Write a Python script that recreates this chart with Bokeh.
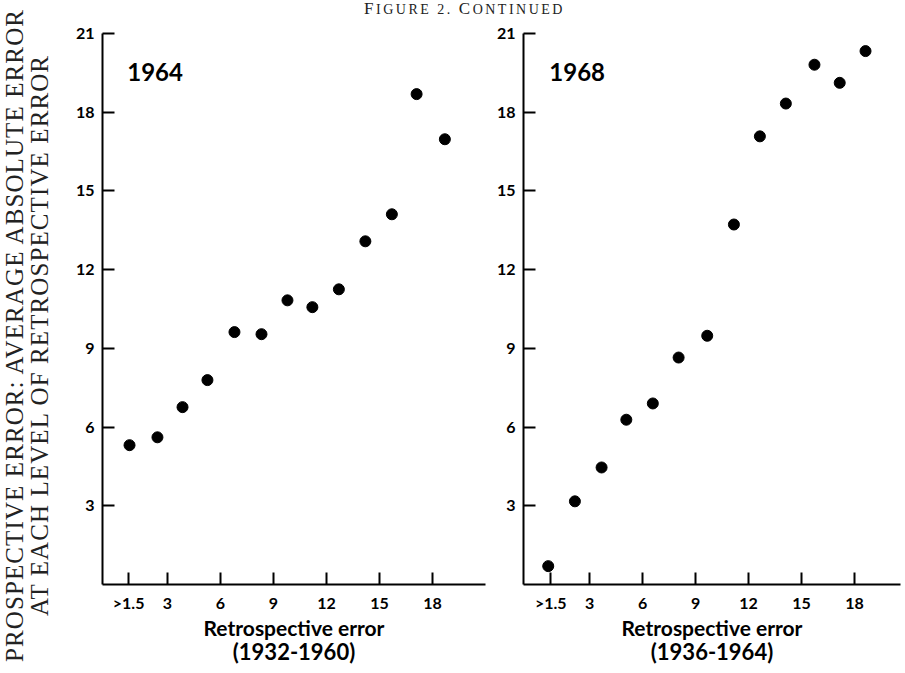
from bokeh.plotting import figure
from bokeh.layouts import column, row
from bokeh.models import Range1d, FixedTicker, Label, Div, LinearAxis
from bokeh.embed import file_html
from bokeh.resources import INLINE

# ---------------- data ----------------
x_ticks = [0.8, 3, 6, 9, 12, 15, 18]
x_tick_labels = [">1.5", "3", "6", "9", "12", "15", "18"]
y_ticks = [3, 6, 9, 12, 15, 18, 21]

x_1964 = [0.85, 2.43, 3.85, 5.26, 6.79, 8.32, 9.79, 11.2, 12.7, 14.2, 15.7, 17.1, 18.7]
y_1964 = [5.31, 5.61, 6.76, 7.79, 9.62, 9.54, 10.83, 10.57, 11.25, 13.08, 14.11, 18.69, 16.97]

x_1968 = [0.66, 2.17, 3.68, 5.08, 6.58, 8.04, 9.66, 11.17, 12.64, 14.11, 15.73, 17.16, 18.62]
y_1968 = [0.70, 3.17, 4.46, 6.28, 6.90, 8.65, 9.48, 13.72, 17.08, 18.33, 19.81, 19.12, 20.33]

y_label_1 = "PROSPECTIVE ERROR: AVERAGE ABSOLUTE ERROR"
y_label_2 = "AT EACH LEVEL OF RETROSPECTIVE ERROR"
panels = [
    ("1964", "Retrospective error", "(1932-1960)", x_1964, y_1964),
    ("1968", "Retrospective error", "(1936-1964)", x_1968, y_1968),
]

SANS = "Lato"

# ---------------- header (small caps look) ----------------
hdr_html = (
    '<div style="width:845px;height:18px;box-sizing:border-box;padding-right:36px;'
    'text-align:center;font-family:\'Liberation Serif\';font-size:14px;line-height:17px;'
    'letter-spacing:2.5px;color:#222;white-space:nowrap;">'
    '<span style="font-size:17px">F</span>IGURE 2. '
    '<span style="font-size:17px">C</span>ONTINUED</div>'
)
hdr = Div(text=hdr_html, width=845, height=18, margin=(0, 0, 0, 0))

# ---------------- y label column ----------------
lab_html = (
    '<div style="width:58px;height:660px;margin-top:5px;margin-left:2px;box-sizing:border-box;'
    'writing-mode:vertical-rl;transform:rotate(180deg);text-align:center;'
    'font-family:\'Liberation Serif\';font-size:25px;line-height:25px;letter-spacing:1.1px;'
    'color:#222;white-space:nowrap;">'
    + y_label_1 + '<br>' + y_label_2 + '</div>'
)
lab = Div(text=lab_html, width=60, height=673, margin=(0, 0, 0, 0))


def make_panel(title, xlabel1, xlabel2, xs, ys, width, xr, border_left, border_bottom):
    p = figure(width=width, height=655, x_range=Range1d(*xr), y_range=Range1d(0, 21),
               output_backend="svg", toolbar_location=None,
               min_border_left=border_left, min_border_right=5,
               min_border_top=15, min_border_bottom=border_bottom)
    p.outline_line_color = None
    p.grid.visible = False
    p.background_fill_color = "white"

    p.scatter(xs, ys, size=11, color="black")

    for ax in (p.xaxis[0], p.yaxis[0]):
        ax.axis_line_width = 2
        ax.axis_line_color = "black"
        ax.major_tick_line_width = 2
        ax.major_tick_line_color = "black"
        ax.major_tick_in = 12
        ax.major_tick_out = 0
        ax.minor_tick_line_color = None
        ax.major_label_text_font = SANS
        ax.major_label_text_font_size = "16px"
        ax.major_label_text_font_style = "bold"
        ax.major_label_text_color = "black"
        ax.major_label_standoff = 8

    p.xaxis.ticker = FixedTicker(ticks=x_ticks)
    p.xaxis.major_label_overrides = {t: l for t, l in zip(x_ticks, x_tick_labels)}
    p.yaxis.ticker = FixedTicker(ticks=y_ticks)

    p.xaxis.axis_label = xlabel1
    p.xaxis.axis_label_text_font = SANS
    p.xaxis.axis_label_text_font_size = "21px"
    p.xaxis.axis_label_text_font_style = "bold"
    p.xaxis.axis_label_text_color = "black"
    p.xaxis.axis_label_standoff = 0

    # second line of the x label, as an extra (tick-less) axis below
    ax2 = LinearAxis(ticker=FixedTicker(ticks=[]), axis_line_color=None,
                     major_tick_line_color=None, minor_tick_line_color=None,
                     major_label_text_font_size="0px", major_label_standoff=0,
                     axis_label=xlabel2, axis_label_standoff=-5,
                     axis_label_text_font=SANS, axis_label_text_font_size="22px",
                     axis_label_text_font_style="bold", axis_label_text_color="black")
    p.add_layout(ax2, "below")

    p.add_layout(Label(x=0.72, y=19.53, text=title, text_font=SANS, text_font_size="24px",
                       text_font_style="bold", text_align="left", text_baseline="middle",
                       text_color="black"))
    return p


pA = make_panel(*panels[0], 430, (-0.68, 21.0), 42, 89)
pB = make_panel(*panels[1], 415, (-0.74, 20.6), 33, 86)

layout = row(lab, column(hdr, row(pA, pB, spacing=0), spacing=0), spacing=0)
open("out.html", "w").write(file_html(layout, INLINE))
